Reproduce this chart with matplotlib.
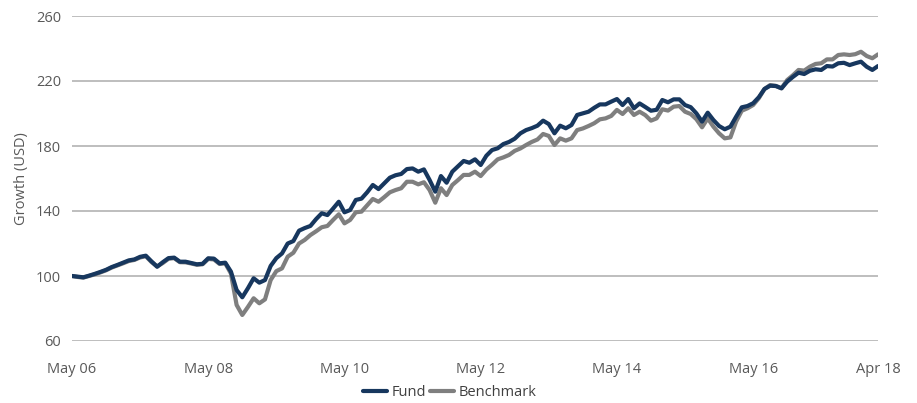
import matplotlib
matplotlib.use("Agg")
import matplotlib.pyplot as plt

# monthly growth of 100 USD, May 06 .. Apr 18
fund = [100.0, 99.6, 99.2, 100.2, 101.3, 102.5, 103.8, 105.5, 106.8, 108.2,
        109.6, 110.2, 111.8, 112.5, 109.0, 105.7, 108.5, 111.0, 111.3, 108.8,
        108.8, 108.0, 107.2, 107.5, 110.9, 110.7, 107.8, 108.2, 102.7, 91.4,
        86.9, 92.5, 98.6, 95.9, 97.5, 106.2, 111.0, 113.9, 120.0, 121.5,
        127.9, 129.5, 130.8, 135.0, 138.6, 137.5, 141.5, 145.7, 139.2, 140.6,
        146.8, 147.6, 151.5, 156.0, 153.5, 157.0, 160.5, 162.0, 162.8, 165.8,
        166.2, 164.2, 165.6, 159.1, 151.9, 161.5, 157.4, 164.2, 167.5, 170.8,
        169.7, 171.8, 168.3, 174.0, 177.5, 178.6, 181.2, 182.5, 184.5, 187.8,
        189.8, 191.0, 192.5, 195.6, 193.5, 187.8, 192.5, 190.9, 192.9, 199.1,
        200.1, 201.1, 203.5, 205.6, 205.6, 207.3, 208.9, 205.2, 208.9, 203.2,
        206.2, 204.0, 201.7, 202.3, 208.3, 206.9, 208.7, 208.7, 205.2, 203.9,
        200.1, 195.0, 200.5, 196.0, 192.3, 190.3, 191.9, 198.0, 203.8, 204.6,
        206.3, 210.0, 215.1, 217.1, 216.9, 215.5, 219.6, 222.5, 225.1, 224.3,
        226.3, 227.2, 226.8, 229.2, 228.9, 230.9, 231.2, 229.8, 230.9, 231.9,
        228.8, 226.8, 229.2]

benchmark = [100.0, 99.4, 99.0, 100.0, 101.0, 102.2, 103.5, 105.2, 106.5, 107.8,
             109.2, 109.9, 111.4, 112.2, 108.6, 105.9, 108.0, 110.6, 111.0, 108.5,
             108.4, 107.7, 106.9, 107.2, 110.5, 110.2, 107.4, 107.8, 101.5, 82.2,
             76.0, 81.0, 86.3, 83.2, 85.6, 97.5, 103.0, 104.7, 111.9, 114.3,
             120.0, 122.2, 125.2, 127.5, 130.0, 130.8, 134.5, 138.0, 132.4, 134.5,
             139.2, 139.6, 143.5, 147.4, 145.7, 148.5, 151.5, 152.9, 154.0, 158.0,
             158.0, 156.4, 157.7, 152.9, 145.1, 154.0, 149.8, 156.0, 159.0, 162.2,
             162.2, 164.2, 161.5, 165.5, 168.5, 171.8, 173.0, 174.5, 177.0, 178.5,
             180.6, 182.5, 184.0, 187.4, 186.2, 180.6, 184.7, 183.3, 184.7, 189.8,
             190.8, 192.3, 194.0, 196.4, 197.0, 198.5, 202.2, 199.7, 203.2, 199.1,
             201.1, 199.0, 195.6, 197.0, 202.6, 201.8, 204.2, 204.6, 201.1, 199.7,
             196.5, 191.5, 197.0, 191.9, 187.8, 184.7, 185.3, 195.0, 201.7, 203.2,
             205.2, 209.4, 215.1, 217.5, 217.0, 215.5, 220.6, 223.5, 226.8, 226.4,
             228.8, 230.5, 230.9, 233.3, 233.3, 236.0, 236.4, 236.0, 236.5, 238.0,
             235.4, 234.0, 236.4]

tick_pos = [0, 24, 48, 72, 96, 120, 142]
tick_labels = ["May 06", "May 08", "May 10", "May 12", "May 14", "May 16", "Apr 18"]
y_ticks = [60, 100, 140, 180, 220, 260]

plt.rcParams["font.family"] = ["Open Sans", "DejaVu Sans"]
text_col = "#595959"

fig = plt.figure(figsize=(9.17, 4.03), dpi=100)
ax = fig.add_axes([72 / 917, 1 - 341 / 403, 806 / 917, 325 / 403])

x = list(range(len(fund)))
ax.plot(x, benchmark, color="#7f7f7f", lw=3.0, solid_capstyle="round",
        solid_joinstyle="round", label="Benchmark", zorder=3)
ax.plot(x, fund, color="#17375e", lw=3.0, solid_capstyle="round",
        solid_joinstyle="round", label="Fund", zorder=4)

ax.set_xlim(0, len(fund) - 1)
ax.set_ylim(60, 260)
ax.set_yticks(y_ticks)
ax.set_xticks(tick_pos)
ax.set_xticklabels(tick_labels)
ax.yaxis.grid(True, color="#b3b3b3", lw=1.2)
ax.set_axisbelow(True)
for s in ax.spines.values():
    s.set_visible(False)
ax.tick_params(axis="both", length=0, labelsize=10.5, colors=text_col)
ax.tick_params(axis="y", pad=8)
ax.tick_params(axis="x", pad=15)
ax.set_ylabel("Growth (USD)", fontsize=10.5, color=text_col, labelpad=5)

h, l = ax.get_legend_handles_labels()
fig.legend(h[::-1], l[::-1], loc="center", bbox_to_anchor=(450 / 917, 1 - 393 / 403),
           ncol=2, frameon=False, fontsize=10.5, handlelength=1.6,
           handletextpad=0.35, columnspacing=0.3, labelcolor="#404040")

fig.savefig("out.png", dpi=100)
